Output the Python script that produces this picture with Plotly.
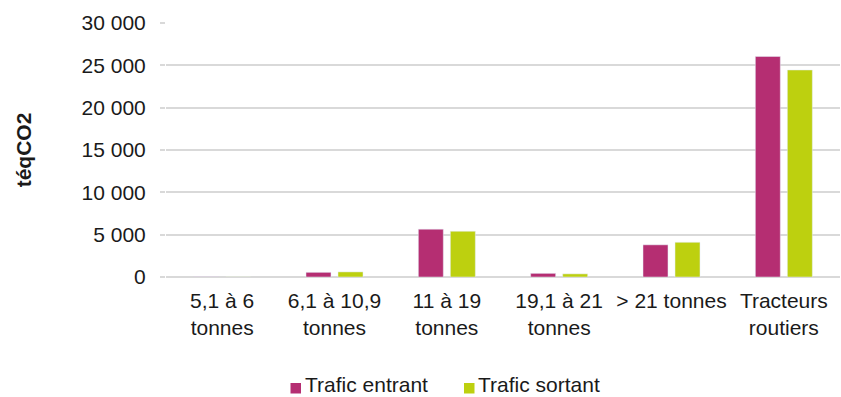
import plotly.graph_objects as go

categories = ["5,1 à 6<br>tonnes", "6,1 à 10,9<br>tonnes", "11 à 19<br>tonnes",
              "19,1 à 21<br>tonnes", "> 21 tonnes", "Tracteurs<br>routiers"]
series_names = ["Trafic entrant", "Trafic sortant"]
entrant = [20, 550, 5650, 430, 3800, 26050]
sortant = [15, 600, 5400, 370, 4100, 24450]
y_ticks = [0, 5000, 10000, 15000, 20000, 25000, 30000]
colors = ["#B52E72", "#BDD00F"]

font = "Liberation Sans, Arial, sans-serif"
FS = 21
fig = go.Figure()
fig.add_trace(go.Bar(name=series_names[0], x=categories, y=entrant, marker_color=colors[0], showlegend=False))
fig.add_trace(go.Bar(name=series_names[1], x=categories, y=sortant, marker_color=colors[1], showlegend=False))

# custom legend (small squares close to text, like the reference)
L, R, T, B = 166, 840, 23, 277
def px(x):
    return (x - L) / (R - L)
def py(y):
    return (B - y) / (B - T)

legend_items = [(290.5, 305), (464, 478)]
for (mx, tx), name, col in zip(legend_items, series_names, colors):
    fig.add_shape(type="rect", xref="paper", yref="paper",
                  x0=px(mx), x1=px(mx + 10.5), y0=py(393.5), y1=py(383),
                  fillcolor=col, line_width=0)
    fig.add_annotation(text=name, xref="paper", yref="paper", x=px(tx - 1), y=py(384.5),
                       xanchor="left", yanchor="middle", showarrow=False, borderpad=0,
                       font=dict(family=font, size=FS, color="#1a1a1a"))

fig.update_layout(
    width=841, height=397,
    margin=dict(l=L, r=841 - R, t=T, b=397 - B),
    plot_bgcolor="white", paper_bgcolor="white",
    barmode="group", bargap=0.43, bargroupgap=0.22,
    separators=", ",
    font=dict(family=font, size=FS, color="#1a1a1a"),
    showlegend=False,
)
fig.update_yaxes(range=[0, 30000], tickvals=y_ticks, tickformat=",d",
                 showgrid=True, gridcolor="#d9d9d9", gridwidth=1.5,
                 zeroline=True, zerolinecolor="#d9d9d9", zerolinewidth=1.5,
                 ticks="outside", ticklen=5, tickcolor="#d9d9d9", tickwidth=1.5,
                 ticklabelstandoff=10,
                 tickfont=dict(size=FS, color="#1a1a1a"),
                 title=dict(text="<b>téqCO2</b>", font=dict(size=FS, color="#1a1a1a"), standoff=44))
fig.update_xaxes(showgrid=False, ticks="", ticklabelstandoff=9,
                 tickfont=dict(size=FS, color="#1a1a1a"))

fig.write_html("out.html")
